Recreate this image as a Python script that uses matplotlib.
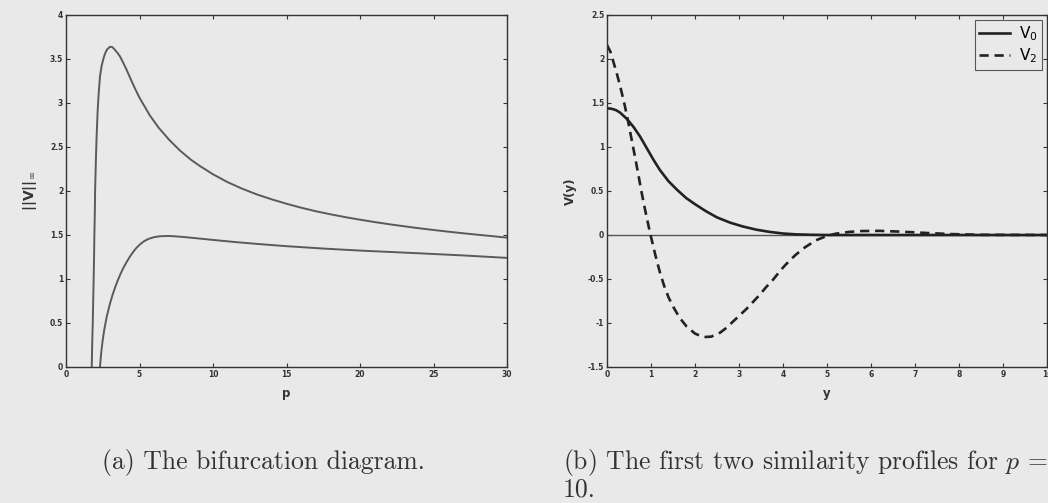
import matplotlib
matplotlib.use("Agg")
import matplotlib.pyplot as plt
from matplotlib.ticker import FormatStrFormatter, MultipleLocator

plt.rcParams["mathtext.fontset"] = "dejavusans"

# ---- data: (a) bifurcation diagram ----
p_upper = [1.75, 1.78, 1.82, 1.85, 1.88, 1.91, 1.93, 1.96, 1.98, 2.01, 2.05, 2.09, 2.15,
           2.22, 2.31, 2.42, 2.54, 2.65, 2.8, 3.0, 3.15, 3.3, 3.5, 3.67, 3.9, 4.1, 4.3,
           4.5, 4.75, 5.0, 5.7, 6.3, 7.0, 7.75, 8.5, 9.1, 10.0, 11.0, 12.0, 13.0, 14.0,
           15.0, 16.0, 17.0, 18.0, 19.0, 20.0, 21.0, 22.0, 23.0, 24.0, 25.0, 26.0, 27.0,
           28.0, 29.0, 30.0]
v_upper = [0.0, 0.25, 0.5, 0.75, 1.0, 1.25, 1.5, 1.75, 2.0, 2.2, 2.45, 2.65, 2.9,
           3.1, 3.3, 3.42, 3.5, 3.56, 3.61, 3.64, 3.635, 3.61, 3.57, 3.53, 3.455, 3.385, 3.31,
           3.235, 3.145, 3.06, 2.86, 2.72, 2.585, 2.46, 2.355, 2.285, 2.19, 2.10, 2.025, 1.96, 1.905,
           1.855, 1.81, 1.77, 1.735, 1.703, 1.674, 1.647, 1.622, 1.599, 1.577, 1.557, 1.538, 1.52,
           1.503, 1.487, 1.47]
p_lower = [2.31, 2.36, 2.42, 2.5, 2.6, 2.7, 2.77, 2.9, 3.0, 3.15, 3.33, 3.5, 3.7, 3.9,
           4.13, 4.35, 4.6, 4.8, 5.03, 5.3, 5.6, 6.0, 6.4, 7.0, 7.5, 8.0, 8.65, 9.3, 10.0,
           11.5, 13.2, 15.0, 17.5, 20.0, 23.9, 27.0, 30.0]
v_lower = [0.0, 0.1, 0.2, 0.31, 0.42, 0.51, 0.57, 0.66, 0.725, 0.81, 0.9, 0.975, 1.055, 1.125,
           1.195, 1.255, 1.315, 1.355, 1.393, 1.428, 1.455, 1.476, 1.486, 1.489, 1.484, 1.477, 1.467,
           1.456, 1.444, 1.42, 1.396, 1.373, 1.346, 1.323, 1.293, 1.268, 1.24]

# ---- data: (b) similarity profiles for p = 10 ----
y_v0 = [0.0, 0.1, 0.2, 0.3, 0.45, 0.6, 0.75, 0.9, 1.05, 1.2, 1.4, 1.6, 1.8, 2.0, 2.25,
        2.5, 2.8, 3.1, 3.4, 3.7, 4.0, 4.3, 4.7, 5.0, 10.0]
v0 = [1.44, 1.435, 1.42, 1.39, 1.32, 1.23, 1.12, 0.99, 0.86, 0.74, 0.61, 0.51, 0.42, 0.35, 0.27,
      0.2, 0.14, 0.095, 0.06, 0.035, 0.017, 0.007, 0.002, 0.0, 0.0]
y_v2 = [0.0, 0.08, 0.15, 0.22, 0.3, 0.4, 0.48, 0.55, 0.62, 0.7, 0.78, 0.86, 0.98, 1.1, 1.2,
        1.3, 1.4, 1.51, 1.65, 1.81, 2.0, 2.19, 2.37, 2.57, 2.7, 2.85, 3.0, 3.17, 3.32, 3.47,
        3.62, 3.77, 3.9, 4.0, 4.15, 4.3, 4.5, 4.75, 5.0, 5.2, 5.5, 5.8, 6.2, 6.58, 7.0, 7.3,
        7.86, 8.5, 10.0]
v2 = [2.16, 2.08, 1.96, 1.84, 1.69, 1.48, 1.29, 1.11, 0.93, 0.72, 0.5, 0.3, 0.02, -0.23, -0.42,
      -0.58, -0.71, -0.82, -0.94, -1.04, -1.12, -1.16, -1.155, -1.11, -1.06, -0.99, -0.92, -0.84, -0.76, -0.68,
      -0.59, -0.51, -0.43, -0.37, -0.29, -0.22, -0.14, -0.06, -0.01, 0.015, 0.035, 0.045, 0.047, 0.04, 0.03, 0.022,
      0.01, 0.002, 0.0]

bg = "#e9e9e9"
W, H = 1048, 503
fig = plt.figure(figsize=(W / 100, H / 100), dpi=100, facecolor=bg)

def style(ax):
    ax.set_facecolor(bg)
    for s in ax.spines.values():
        s.set_color("#333333")
        s.set_linewidth(1.0)
    ax.tick_params(direction="in", length=3, width=0.8, top=True, right=True,
                   labelsize=5.5, colors="#333333", pad=2)
    for lab in ax.get_xticklabels() + ax.get_yticklabels():
        lab.set_fontweight("bold")
    ax.xaxis.set_major_formatter(FormatStrFormatter("%g"))
    ax.yaxis.set_major_formatter(FormatStrFormatter("%g"))

# left axes
ax1 = fig.add_axes([66 / W, (H - 367) / H, 441 / W, 352 / H])
ax1.plot(p_upper, v_upper, color="#5a5a5a", lw=1.4)
ax1.plot(p_lower, v_lower, color="#5a5a5a", lw=1.4)
ax1.set_xlim(0, 30)
ax1.set_ylim(0, 4)
ax1.xaxis.set_major_locator(MultipleLocator(5))
ax1.yaxis.set_major_locator(MultipleLocator(0.5))
style(ax1)
ax1.set_xlabel("p", fontsize=8.5, fontweight="bold", color="#333333", labelpad=6)
ax1.set_ylabel(r"$\mathbf{||V||}_{\infty}$", fontsize=10, color="#333333", labelpad=8)

# right axes
ax2 = fig.add_axes([607 / W, (H - 367) / H, 440 / W, 352 / H])
ax2.axhline(0, color="#555555", lw=1.0)
ax2.plot(y_v0, v0, color="#222222", lw=1.9, label=r"$\mathrm{V_0}$")
ax2.plot(y_v2, v2, color="#222222", lw=1.9, dashes=(3.5, 2.2), label=r"$\mathrm{V_2}$")
ax2.set_xlim(0, 10)
ax2.set_ylim(-1.5, 2.5)
ax2.xaxis.set_major_locator(MultipleLocator(1))
ax2.yaxis.set_major_locator(MultipleLocator(0.5))
style(ax2)
ax2.set_xlabel("y", fontsize=8.5, fontweight="bold", color="#333333", labelpad=6)
ax2.set_ylabel("V(y)", fontsize=8.5, fontweight="bold", color="#333333", labelpad=8)
leg = ax2.legend(loc="upper right", fontsize=11, frameon=True, fancybox=False,
                 handlelength=2.0, borderpad=0.3, labelspacing=0.25,
                 borderaxespad=0.3, handletextpad=0.6)
leg.get_frame().set_facecolor(bg)
leg.get_frame().set_edgecolor("#333333")
leg.get_frame().set_linewidth(0.8)

# captions
cap = dict(fontsize=18.5, family="cmr10", color="#333333", math_fontfamily="cm")
fig.text(263 / W, 1 - 462 / H, "(a) The bifurcation diagram.", ha="center", va="center", **cap)
fig.text(563 / W, 1 - 462 / H, r"(b) The first two similarity profiles for $p$ =",
         ha="left", va="center", **cap)
fig.text(563 / W, 1 - 490 / H, "10.", ha="left", va="center", **cap)

fig.savefig("out.png", dpi=100, facecolor=bg)
